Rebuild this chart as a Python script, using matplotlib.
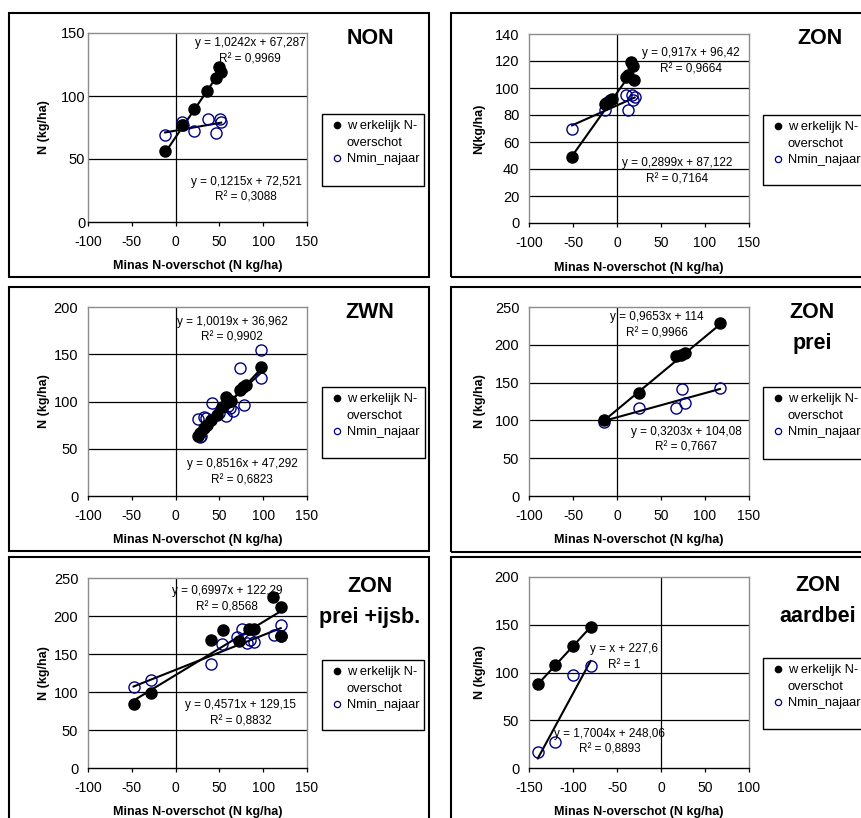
import numpy as np
import matplotlib
matplotlib.use("Agg")
import matplotlib.pyplot as plt
from matplotlib.patches import Rectangle
from matplotlib.lines import Line2D

plt.rcParams['font.family'] = ['Liberation Sans', 'DejaVu Sans']
plt.rcParams['axes.unicode_minus'] = False

# --- data ---
non_x_w = [-12, 7, 21, 36, 46, 50, 52]
non_y_w = [56, 77, 90, 104, 114, 123, 119]
non_x_n = [-12, 7, 8, 21, 37, 46, 51, 52]
non_y_n = [69, 79, 77, 72, 82, 71, 82, 79]

zon_x_w = [-51, -14, -10, -6, 10, 12, 16, 18, 19]
zon_y_w = [49, 88, 90, 92, 108, 110, 119, 116, 106]
zon_x_n = [-51, -14, -12, -8, 10, 12, 17, 18, 20]
zon_y_n = [70, 84, 89, 91, 95, 84, 95, 91, 93]

zwn_x_w = [25, 28, 32, 36, 40, 47, 53, 57, 60, 63, 74, 77, 80, 98]
zwn_y_w = [63, 67, 72, 75, 80, 86, 94, 105, 100, 101, 112, 115, 117, 136]
zwn_x_n = [25, 28, 29, 32, 35, 42, 50, 58, 60, 62, 65, 74, 78, 98, 98]
zwn_y_n = [82, 62, 64, 84, 83, 98, 88, 85, 95, 93, 90, 135, 96, 155, 125]

prei_x_w = [-15, 25, 67, 73, 77, 117]
prei_y_w = [100, 136, 185, 186, 189, 229]
prei_x_n = [-15, 25, 67, 74, 77, 117]
prei_y_n = [98, 117, 117, 142, 123, 143]

ijsb_x_w = [-48, -28, 40, 54, 72, 84, 89, 111, 120, 120]
ijsb_y_w = [84, 99, 168, 181, 167, 183, 183, 225, 212, 174]
ijsb_x_n = [-48, -28, 40, 53, 70, 76, 81, 85, 89, 112, 120, 120]
ijsb_y_n = [106, 116, 137, 163, 173, 183, 165, 168, 166, 175, 188, 174]

aard_x_w = [-140, -120, -100, -80]
aard_y_w = [88, 108, 128, 148]
aard_x_n = [-140, -120, -100, -80]
aard_y_n = [17, 27, 97, 107]

# trendline coefficients (slope, intercept) as printed in the chart
slopes_w = [1.0242, 0.917, 1.0019, 0.9653, 0.6997, 1.0]
inters_w = [67.287, 96.42, 36.962, 114, 122.29, 227.6]
slopes_n = [0.1215, 0.2899, 0.8516, 0.3203, 0.4571, 1.7004]
inters_n = [72.521, 87.122, 47.292, 104.08, 129.15, 248.06]

eq_w = ["y = 1,0242x + 67,287", "y = 0,917x + 96,42", "y = 1,0019x + 36,962",
        "y = 0,9653x + 114", "y = 0,6997x + 122,29", "y = x + 227,6"]
r2_w = ["R² = 0,9969", "R² = 0,9664", "R² = 0,9902", "R² = 0,9966", "R² = 0,8568", "R² = 1"]
eq_n = ["y = 0,1215x + 72,521", "y = 0,2899x + 87,122", "y = 0,8516x + 47,292",
        "y = 0,3203x + 104,08", "y = 0,4571x + 129,15", "y = 1,7004x + 248,06"]
r2_n = ["R² = 0,3088", "R² = 0,7164", "R² = 0,6823", "R² = 0,7667", "R² = 0,8832", "R² = 0,8893"]

titles = ["NON", "ZON", "ZWN", "ZON\nprei", "ZON\nprei +ijsb.", "ZON\naardbei"]
ylabels = ["N (kg/ha)", "N(kg/ha)", "N (kg/ha)", "N (kg/ha)", "N (kg/ha)", "N (kg/ha)"]
legend_labels = ["w erkelijk N-", "overschot", "Nmin_najaar"]
xlims = [(-100, 150)] * 5 + [(-150, 100)]
ylims = [(0, 150), (0, 140), (0, 200), (0, 250), (0, 250), (0, 200)]
ysteps = [50, 20, 50, 50, 50, 50]

W, H = 861, 818
fig = plt.figure(figsize=(W / 100, H / 100), dpi=100)
fig.patch.set_facecolor('white')


def fx(x):
    return x / W


def fy(y):
    return 1 - y / H


# pixel layout
panel_boxes = [(9, 13, 429, 277), (451, 13, 880, 277),
               (9, 287, 429, 551), (451, 287, 880, 552),
               (9, 557, 429, 830), (451, 557, 880, 830)]
axes_boxes = [(88, 33, 307, 222), (529, 34, 749, 223),
              (88, 307, 307, 496), (529, 307, 749, 496),
              (88, 578, 307, 768), (529, 577, 749, 768)]
legend_boxes = [(322, 114, 424, 186), (763, 115, 880, 185),
                (322, 387, 425, 458), (763, 387, 880, 459),
                (322, 660, 424, 730), (763, 658, 880, 729)]
ylabel_x = [43, 479, 43, 479, 43, 479]
ytick_pad = [2, 7, 7, 7, 7, 7]
title_pos = [(370, 39), (820, 39), (370, 312), (812, 328), (370, 602), (818, 601)]
eqw_pos = [(250, 43), (691, 53), (232, 322), (657, 317), (227, 591), (624, 649)]
eqn_pos = [(246, 182), (677, 163), (242, 464), (686, 432), (241, 705), (610, 734)]

xs_w = [non_x_w, zon_x_w, zwn_x_w, prei_x_w, ijsb_x_w, aard_x_w]
ys_w = [non_y_w, zon_y_w, zwn_y_w, prei_y_w, ijsb_y_w, aard_y_w]
xs_n = [non_x_n, zon_x_n, zwn_x_n, prei_x_n, ijsb_x_n, aard_x_n]
ys_n = [non_y_n, zon_y_n, zwn_y_n, prei_y_n, ijsb_y_n, aard_y_n]

blue = '#000080'
grey = '#8c8c8c'

for i in range(6):
    x0, y0, x1, y1 = panel_boxes[i]
    fig.patches.append(Rectangle((fx(x0), fy(y1)), fx(x1 - x0), (y1 - y0) / H,
                                 transform=fig.transFigure, fill=False,
                                 edgecolor='black', lw=1.5))

    a0, b0, a1, b1 = axes_boxes[i]
    ax = fig.add_axes([fx(a0), fy(b1), fx(a1 - a0), (b1 - b0) / H])
    ax.set_xlim(*xlims[i])
    ax.set_ylim(*ylims[i])
    ax.set_xticks(np.arange(xlims[i][0], xlims[i][1] + 1, 50))
    yt = np.arange(ylims[i][0], ylims[i][1] + 1, ysteps[i])
    ax.set_yticks(yt)
    for yv in yt[1:-1]:
        ax.axhline(yv, color='black', lw=0.9, zorder=1)
    ax.axvline(0, color='black', lw=0.9, zorder=1)
    for s in ['left', 'top', 'right']:
        ax.spines[s].set_color(grey)
        ax.spines[s].set_linewidth(1.0)
    ax.spines['bottom'].set_color('black')
    ax.spines['bottom'].set_linewidth(1.0)
    ax.tick_params(axis='x', direction='out', length=3, width=0.9, pad=6.3, labelsize=10)
    ax.tick_params(axis='y', length=0, pad=ytick_pad[i], labelsize=10.5)

    ax.set_xlabel("Minas N-overschot (N kg/ha)", fontsize=9, fontweight='bold')
    ax.xaxis.set_label_coords(0.5, -38.5 / (b1 - b0))
    ax.set_ylabel(ylabels[i], fontsize=9, fontweight='bold')
    ax.yaxis.set_label_coords((ylabel_x[i] + 6.5 - a0) / (a1 - a0), 0.5)

    # trendlines
    xw = np.array([min(xs_w[i]), max(xs_w[i])])
    ax.plot(xw, slopes_w[i] * xw + inters_w[i], color='black', lw=1.5, zorder=3)
    xn = np.array([min(xs_n[i]), max(xs_n[i])])
    ax.plot(xn, slopes_n[i] * xn + inters_n[i], color='black', lw=1.5, zorder=3)

    ax.plot(xs_n[i], ys_n[i], 'o', ms=8, mfc='none', mec=blue, mew=1.0, zorder=4)
    ax.plot(xs_w[i], ys_w[i], 'o', ms=8, mfc='black', mec='black', zorder=5)

    # equation labels
    ex, ey = eqw_pos[i]
    fig.text(fx(ex), fy(ey), eq_w[i], ha='center', va='center', fontsize=8.5)
    fig.text(fx(ex), fy(ey + 16), r2_w[i], ha='center', va='center', fontsize=8.5)
    ex, ey = eqn_pos[i]
    fig.text(fx(ex), fy(ey), eq_n[i], ha='center', va='center', fontsize=8.5)
    fig.text(fx(ex), fy(ey + 16), r2_n[i], ha='center', va='center', fontsize=8.5)

    tx, ty = title_pos[i]
    fig.text(fx(tx), fy(ty), titles[i], ha='center', va='center', fontsize=15.5,
             fontweight='bold', linespacing=1.6)

    # legend
    l0, m0, l1, m1 = legend_boxes[i]
    fig.patches.append(Rectangle((fx(l0), fy(m1)), fx(l1 - l0), (m1 - m0) / H,
                                 transform=fig.transFigure, fill=False,
                                 edgecolor='black', lw=1.0))
    handles = [Line2D([], [], ls='none', marker='o', ms=4.5, mfc='black', mec='black'),
               Line2D([], [], ls='none', marker=None),
               Line2D([], [], ls='none', marker='o', ms=4.5, mfc='none', mec=blue, mew=0.9)]
    fig.legend(handles, legend_labels,
               loc='upper left', bbox_to_anchor=(fx(l0 + 2.1), fy(m0 + 1)),
               frameon=False, fontsize=9.3, borderpad=0.4, borderaxespad=0,
               handlelength=1.2, handletextpad=0.17, labelspacing=0.35)

fig.savefig('out.png', dpi=100)
